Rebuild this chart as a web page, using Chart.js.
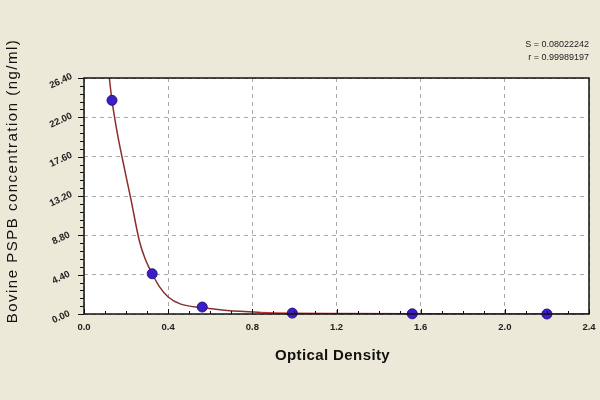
<!DOCTYPE html>
<html>
<head>
<meta charset="utf-8">
<script src="https://cdn.jsdelivr.net/npm/chart.js@4.4.0/dist/chart.umd.min.js"></script>
<style>
  html, body { margin: 0; padding: 0; background: #ece9d8; }
  #wrap { width: 600px; height: 400px; }
</style>
</head>
<body>
<div id="wrap"><canvas id="c" width="600" height="400"></canvas></div>
<script>
// Standard points (Optical Density, concentration ng/ml)
const pointOD   = [0.133, 0.324, 0.562, 0.99, 1.56, 2.2];
const pointConc = [23.9, 4.5, 0.78, 0.1, 0.02, 0.0];

// Fitted curve
const curveOD   = [0.115, 0.133, 0.16, 0.184, 0.224, 0.263, 0.29, 0.324, 0.36, 0.40, 0.46, 0.56, 0.68, 0.84, 1.0, 1.2, 1.6, 2.0, 2.4];
const curveConc = [27.5, 23.9, 20.0, 17.2, 12.7, 8.2, 6.2, 4.5, 3.0, 1.9, 1.1, 0.72, 0.38, 0.18, 0.09, 0.05, 0.02, 0.01, 0.0];

const yTickLabels = ['0.00', '4.40', '8.80', '13.20', '17.60', '22.00', '26.40'];
const xTickLabels = ['0.0', '0.4', '0.8', '1.2', '1.6', '2.0', '2.4'];
const statLines = ['S = 0.08022242', 'r = 0.99989197'];
const xTitle = 'Optical Density';
const yTitle = 'Bovine PSPB concentration (ng/ml)';

const curveData = curveOD.map((x, i) => ({ x: x, y: curveConc[i] }));
const pointData = pointOD.map((x, i) => ({ x: x, y: pointConc[i] }));

const decor = {
  id: 'decor',
  beforeDraw(chart) {
    const ctx = chart.ctx, a = chart.chartArea;
    ctx.save();
    ctx.fillStyle = '#ece9d8';
    ctx.fillRect(0, 0, chart.width, chart.height);
    ctx.fillStyle = '#ffffff';
    ctx.fillRect(a.left, a.top, a.right - a.left, a.bottom - a.top);
    ctx.restore();
  },
  afterDraw(chart) {
    const ctx = chart.ctx, a = chart.chartArea;
    const xs = chart.scales.x, ys = chart.scales.y;
    ctx.save();
    // border
    ctx.strokeStyle = '#111';
    ctx.lineWidth = 1.5;
    ctx.strokeRect(a.left, a.top, a.right - a.left, a.bottom - a.top);
    // y ticks (major + minor)
    ctx.lineWidth = 1;
    for (let i = 0; i <= 30; i++) {
      const v = i * 0.88;
      const py = Math.round(ys.getPixelForValue(v)) + 0.5;
      const len = (i % 5 === 0) ? 6 : 4;
      ctx.beginPath(); ctx.moveTo(a.left - len, py); ctx.lineTo(a.left, py); ctx.stroke();
    }
    // x ticks (major + minor)
    for (let i = 0; i <= 24; i++) {
      const v = i * 0.1;
      const px = Math.round(xs.getPixelForValue(v)) + 0.5;
      const len = (i % 4 === 0) ? 5 : 3;
      ctx.beginPath(); ctx.moveTo(px, a.bottom); ctx.lineTo(px, a.bottom - len); ctx.stroke();
    }
    // y tick labels, rotated
    ctx.fillStyle = '#222';
    ctx.font = 'bold 9.5px "Liberation Sans", Arial, sans-serif';
    ctx.textAlign = 'center';
    ctx.textBaseline = 'middle';
    yTickLabels.forEach((t, i) => {
      const py = ys.getPixelForValue(i * 4.4);
      ctx.save();
      ctx.translate(61, py + 3);
      ctx.rotate(-25 * Math.PI / 180);
      ctx.fillText(t, 0, 0);
      ctx.restore();
    });
    // stats text
    ctx.font = '9px "Liberation Sans", Arial, sans-serif';
    ctx.textAlign = 'right';
    ctx.fillStyle = '#222';
    ctx.fillText(statLines[0], 589, 45);
    ctx.fillText(statLines[1], 589, 58);
    // axis titles
    ctx.save();
    ctx.font = 'bold 15px "Liberation Sans", Arial, sans-serif';
    ctx.textAlign = 'center';
    ctx.fillStyle = '#111';
    try { ctx.letterSpacing = '0.4px'; } catch (e) {}
    ctx.fillText(xTitle, (a.left + a.right) / 2 - 4, 356);
    ctx.restore();
    ctx.save();
    ctx.translate(13, 181);
    ctx.rotate(-Math.PI / 2);
    ctx.font = '15px "Liberation Sans", Arial, sans-serif';
    ctx.textAlign = 'center';
    ctx.textBaseline = 'middle';
    ctx.fillStyle = '#111';
    try { ctx.letterSpacing = '1.5px'; } catch (e) {}
    ctx.fillText(yTitle, 0, 0);
    ctx.restore();
    ctx.restore();
  }
};

new Chart(document.getElementById('c'), {
  type: 'scatter',
  plugins: [decor],
  data: {
    datasets: [
      {
        label: 'curve',
        data: curveData,
        showLine: true,
        borderColor: '#8b2e2e',
        borderWidth: 1.5,
        pointRadius: 0,
        cubicInterpolationMode: 'monotone',
        segment: {
          borderColor: c => (c.p0.parsed.x >= 0.84 ? '#c0302a' : '#8b2e2e')
        },
        order: 2
      },
      {
        label: 'standards',
        data: pointData,
        showLine: false,
        pointRadius: 5,
        pointBackgroundColor: '#3b1fc4',
        pointBorderColor: '#2a1290',
        pointBorderWidth: 1,
        clip: false,
        order: 1
      }
    ]
  },
  options: {
    responsive: false,
    animation: false,
    layout: { padding: { left: 0, top: 78, right: 11, bottom: 0 } },
    plugins: { legend: { display: false }, tooltip: { enabled: false } },
    scales: {
      x: {
        type: 'linear', min: 0, max: 2.4,
        afterFit: s => { s.height = 86; s.paddingLeft = 0; s.paddingRight = 0; },
        afterBuildTicks: s => { s.ticks = xTickLabels.map(t => ({ value: parseFloat(t) })); },
        ticks: {
          padding: 8,
          color: '#222',
          font: { family: '"Liberation Sans", Arial, sans-serif', size: 9.5, weight: 'bold' },
          callback: (v, i) => xTickLabels[i]
        },
        grid: { color: '#a8a8a8', drawTicks: false },
        border: { display: false, dash: [4, 4] }
      },
      y: {
        type: 'linear', min: 0, max: 26.4,
        afterFit: s => { s.width = 84; s.paddingTop = 0; s.paddingBottom = 0; },
        afterBuildTicks: s => { s.ticks = yTickLabels.map(t => ({ value: parseFloat(t) })); },
        ticks: { display: false },
        grid: { color: '#a8a8a8', drawTicks: false },
        border: { display: false, dash: [4, 4] }
      }
    }
  }
});
</script>
</body>
</html>
